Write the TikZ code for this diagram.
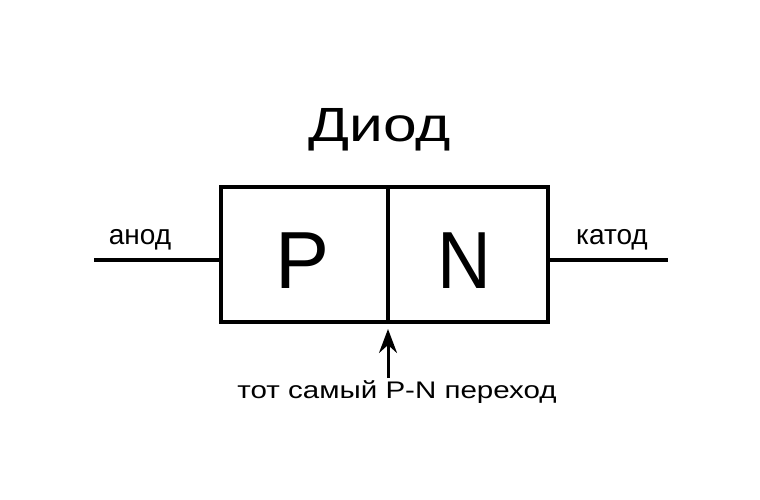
\documentclass[tikz,border=0pt]{standalone}
\usepackage{fontspec}
\setmainfont{Liberation Sans}
\usetikzlibrary{arrows.meta}
\begin{document}
\begin{tikzpicture}[x=1pt,y=-1pt,
  wire/.style={line width=3.2pt},
  lbl/.style={inner sep=0pt, anchor=base, text=black}]
\useasboundingbox[fill=white] (0,0) rectangle (760,500);
\node[draw, line width=3.2pt, minimum width=167pt, minimum height=135pt, inner sep=0pt] (pbox) at (304.5,254.5) {};
\node[draw, line width=3.2pt, minimum width=160pt, minimum height=135pt, inner sep=0pt] (nbox) at (468,254.5) {};
\node[lbl, font=\fontsize{81}{81}\selectfont] (p) at (303,288) {P};
\node[lbl, font=\fontsize{81}{81}\selectfont, xscale=0.92] (n) at (464,288) {N};
\node[lbl, font=\fontsize{48}{48}\selectfont, xscale=1.26] (title) at (380,142) {Диод};
\coordinate (la) at (94,260);
\coordinate (rk) at (668,260);
\draw[wire] (la) -- (pbox.west |- la);
\draw[wire] (nbox.east |- rk) -- (rk);
\node[lbl, font=\fontsize{28}{28}\selectfont] (anod) at (140,244) {анод};
\node[lbl, font=\fontsize{28}{28}\selectfont] (katod) at (612,244) {катод};
\node[lbl, font=\fontsize{24}{24}\selectfont, xscale=1.23] (junc) at (397,398) {тот самый P-N переход};
\coordinate (tip) at (388,329);
\draw[line width=3pt, -{Stealth[length=24pt,width=18pt,inset=8pt]}] (388,378) -- (tip);
\end{tikzpicture}
\end{document}
